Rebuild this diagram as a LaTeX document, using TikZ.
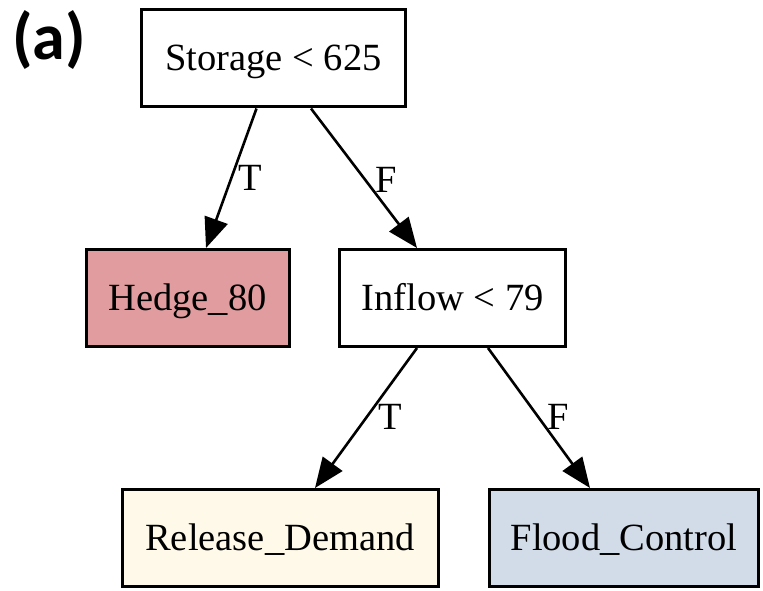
\documentclass[tikz,border=0pt]{standalone}
\usepackage{fontspec}
\setmainfont{Liberation Serif}
\newfontfamily\panelfont{Carlito}
\usetikzlibrary{arrows.meta}

\definecolor{hedgefill}{HTML}{E09C9E}
\definecolor{releasefill}{HTML}{FEF9E8}
\definecolor{floodfill}{HTML}{D2DCE8}

\tikzset{
  treebox/.style={draw=black, line width=3pt, rectangle, inner sep=0pt,
    minimum height=97pt, text height=25pt, text depth=0pt,
    font=\fontsize{38.5}{44}\selectfont},
  branch/.style={line width=2.6pt, -{Triangle[length=30pt,width=24pt]}},
  edgelabel/.style={font=\fontsize{38.5}{44}\selectfont, inner sep=0pt}
}

\begin{document}
\begin{tikzpicture}[x=1pt,y=-1pt]
  \useasboundingbox (0,0) rectangle (763,591);

  % panel tag
  \node[font=\panelfont\bfseries\fontsize{66}{72}\selectfont, inner sep=0pt]
    (tag) at (49,40) {(a)};

  % decision nodes and leaves
  \node[treebox, fill=white, minimum width=264pt] (root) at (273.5,58.5) {Storage < 625};
  \node[treebox, fill=hedgefill, minimum width=203pt] (hedge) at (187.5,298) {Hedge\_80};
  \node[treebox, fill=white, minimum width=226pt] (inflow) at (452.5,298) {Inflow < 79};
  \node[treebox, fill=releasefill, minimum width=316pt] (release) at (280,538) {Release\_Demand};
  \node[treebox, fill=floodfill, minimum width=269pt] (flood) at (624,538) {Flood\_Control};

  % branches
  \draw[branch] ([xshift=-17pt]root.south) -- ([xshift=18.5pt]hedge.north);
  \draw[branch] ([xshift=37.5pt]root.south) -- ([xshift=-35.5pt]inflow.north);
  \draw[branch] ([xshift=-35.5pt]inflow.south) -- ([xshift=35pt]release.north);
  \draw[branch] ([xshift=35.5pt]inflow.south) -- ([xshift=-34pt]flood.north);

  % branch labels
  \node[edgelabel] (t1) at (250,178) {T};
  \node[edgelabel] (f1) at (386,180) {F};
  \node[edgelabel] (t2) at (390,417) {T};
  \node[edgelabel] (f2) at (558,417) {F};
\end{tikzpicture}
\end{document}
